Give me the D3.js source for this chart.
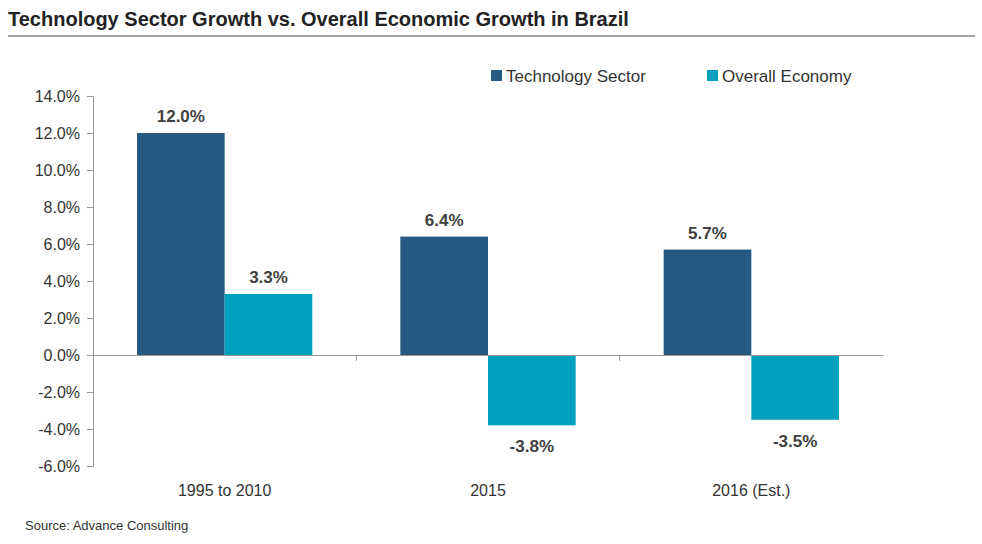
<!DOCTYPE html>
<html><head><meta charset="utf-8">
<script src="https://cdn.jsdelivr.net/npm/d3@7"></script>
<style>body{margin:0;background:#fff;font-family:Arial,"Liberation Sans",sans-serif}</style>
</head><body><svg id="chart" width="982" height="544"></svg>
<script>
const categories = ["1995 to 2010", "2015", "2016 (Est.)"];
const series = ["Technology Sector", "Overall Economy"];
const techValues = [12.0, 6.4, 5.7];
const econValues = [3.3, -3.8, -3.5];
const yTicks = [14, 12, 10, 8, 6, 4, 2, 0, -2, -4, -6];
const colors = ["#265A82", "#00A0BF"];

const svg = d3.select("#chart");
const plotLeft = 93, plotRight = 883, plotTop = 96, plotBottom = 466;

svg.append("text").attr("x", 8).attr("y", 26).text("Technology Sector Growth vs. Overall Economic Growth in Brazil")
  .style("font-size", "20px").style("font-weight", "bold").style("fill", "#222");
svg.append("line").attr("x1", 8).attr("x2", 975).attr("y1", 36).attr("y2", 36).attr("stroke", "#444").attr("stroke-width", 1);

const y = d3.scaleLinear().domain([-6, 14]).range([plotBottom, plotTop]);
const x0 = d3.scaleBand().domain(categories).range([plotLeft, plotRight]).paddingInner(0).paddingOuter(0);
const x1 = d3.scaleBand().domain(series).range([44, x0.bandwidth() - 44]);

const yAxis = svg.append("g").attr("transform", `translate(${plotLeft},0)`)
  .call(d3.axisLeft(y).tickValues(yTicks).tickSize(6).tickFormat(d => d.toFixed(1) + "%"));
yAxis.selectAll("text").style("font-size", "16px").style("fill", "#333").attr("font-family", "Arial,'Liberation Sans',sans-serif").attr("dx", "-4");
yAxis.selectAll("line,path").attr("stroke", "#999");

const data = categories.map((c, i) => ({ c, vals: [techValues[i], econValues[i]] }));
const g = svg.selectAll(".grp").data(data).join("g").attr("transform", d => `translate(${x0(d.c)},0)`);
g.selectAll("rect").data(d => d.vals.map((v, j) => ({ v, s: series[j], j }))).join("rect")
  .attr("x", d => x1(d.s)).attr("width", x1.bandwidth())
  .attr("y", d => y(Math.max(0, d.v))).attr("height", d => Math.abs(y(d.v) - y(0)))
  .attr("fill", d => colors[d.j]);
g.selectAll(".lbl").data(d => d.vals.map((v, j) => ({ v, s: series[j] }))).join("text")
  .attr("x", d => x1(d.s) + x1.bandwidth() / 2)
  .attr("y", d => d.v >= 0 ? y(d.v) - 11 : y(d.v) + 27)
  .attr("text-anchor", "middle").text(d => d.v.toFixed(1) + "%")
  .style("font-size", "17px").style("font-weight", "bold").style("fill", "#404040");

// zero line with category separators
const xAxis = svg.append("g").attr("transform", `translate(0,${y(0)})`)
  .call(d3.axisBottom(x0).tickValues([]).tickSizeOuter(0));
xAxis.selectAll("path").attr("stroke", "#999");
[1, 2].forEach(i => svg.append("line").attr("x1", x0(categories[i])).attr("x2", x0(categories[i]))
  .attr("y1", y(0)).attr("y2", y(0) + 6).attr("stroke", "#999"));
svg.selectAll(".cat").data(categories).join("text").attr("x", d => x0(d) + x0.bandwidth() / 2).attr("y", 496)
  .attr("text-anchor", "middle").text(d => d).style("font-size", "16px").style("fill", "#333");

const legX = [491, 707];
series.forEach((s, i) => {
  svg.append("rect").attr("x", legX[i]).attr("y", 70).attr("width", 11).attr("height", 11).attr("fill", colors[i]);
  svg.append("text").attr("x", legX[i] + 15).attr("y", 82).text(s).style("font-size", "17px").style("fill", "#333");
});

svg.append("text").attr("x", 25).attr("y", 530).text("Source: Advance Consulting").style("font-size", "13px").style("fill", "#333");
</script></body></html>
